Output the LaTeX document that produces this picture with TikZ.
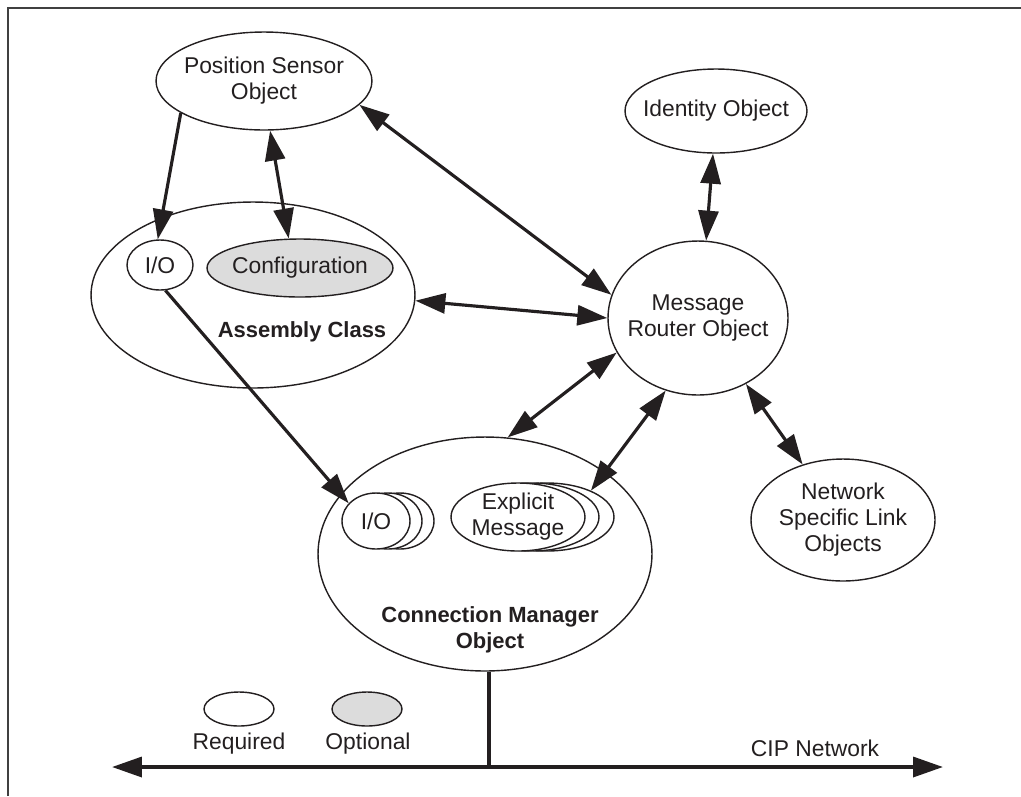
\documentclass[tikz,border=0pt]{standalone}
\usepackage{fontspec}
\setmainfont{Liberation Sans}
\usetikzlibrary{shapes.geometric, arrows.meta}

\definecolor{ink}{HTML}{231F20}
\definecolor{optgray}{HTML}{DCDCDC}

\begin{document}
\begin{tikzpicture}[x=0.02cm, y=-0.02cm, color=ink, line width=0.8pt,
    font=\fontsize{13}{14.8}\selectfont,
    obj/.style={draw, ellipse, inner sep=-6pt, align=center, fill=white},
    caption/.style={font=\fontsize{12.5}{14.8}\selectfont\bfseries, align=center},
    link/.style={line width=1.8pt, {Triangle[length=0.6cm,width=0.4cm]}-{Triangle[length=0.6cm,width=0.4cm]}},
    feed/.style={line width=1.8pt, -{Triangle[length=0.6cm,width=0.4cm]}},
    bus/.style={line width=2pt}]
  \useasboundingbox (0,0) rectangle (1021,796);
  \draw[line width=1.5pt, color=black!75] (8,796) -- (8,8) -- (1021,8);

  \node[obj, minimum width=4.32cm, minimum height=1.96cm] (pso) at (264,81) {Position Sensor\\Object};
  \node[obj, minimum width=3.64cm, minimum height=1.68cm] (ido) at (716,111) {Identity Object};

  % assembly
  \node[obj, minimum width=6.48cm, minimum height=3.72cm] (asm) at (253,295) {};
  \node[obj, minimum width=1.32cm, minimum height=1cm] (asmio) at (160,265) {I/O};
  \node[obj, fill=optgray, minimum width=3.72cm, minimum height=1.16cm] (cfg) at (300,268) {Configuration};
  \node[caption] (asmlbl) at (302,332) {Assembly Class};

  \node[obj, minimum width=3.6cm, minimum height=3.08cm] (mro) at (698,318) {Message\\Router Object};

  % connection manager
  \node[obj, minimum width=6.68cm, minimum height=4.68cm] (cmo) at (485,554) {};
  \node[caption] (cmolbl) at (490,630) {Connection Manager\\Object};
  \node[obj, minimum width=1.36cm, minimum height=1.12cm] (cmio3) at (400,521) {};
  \node[obj, minimum width=1.36cm, minimum height=1.12cm] (cmio2) at (388,521) {};
  \node[obj, minimum width=1.36cm, minimum height=1.12cm] (cmio) at (376,521) {I/O};
  \node[obj, minimum width=2.68cm, minimum height=1.36cm] (exm3) at (547,517) {};
  \node[obj, minimum width=2.68cm, minimum height=1.36cm] (exm2) at (532,517) {};
  \node[obj, minimum width=2.68cm, minimum height=1.36cm] (exm) at (518,517) {Explicit\\Message};

  \node[obj, minimum width=3.68cm, minimum height=2.44cm] (nsl) at (843,520) {Network\\Specific Link\\Objects};

  % legend and network
  \node[obj, minimum width=1.4cm, minimum height=0.68cm] (req) at (239,709) {};
  \node[obj, fill=optgray, minimum width=1.4cm, minimum height=0.68cm] (opt) at (367,709) {};
  \node (reqlbl) at (239,744) {Required};
  \node (optlbl) at (368,744) {Optional};
  \node (ciplbl) at (815,748) {CIP Network};
  \coordinate (busl) at (112,767);
  \coordinate (busr) at (943,767);

  \draw[bus] (cmo.-88) -- (cmo.-88 |- busl);
  \draw[bus, {Triangle[length=0.6cm,width=0.4cm]}-{Triangle[length=0.6cm,width=0.4cm]}] (busl) -- (busr);

  \draw[feed] (pso.201) -- (asmio.95);
  \draw[link] (pso.277) -- (cfg.111);
  \draw[link] (pso.-14) -- (mro.165);
  \draw[link] (ido.266) -- (mro.84);
  \draw[link] (asm.-2) -- (mro.180);
  \draw[link] (cmo.79) -- (mro.203);
  \draw[link] (exm3.31) -- (mro.246);
  \draw[link] (mro.306) -- (nsl.126);
  \draw[feed] (asmio.282) -- (cmio.147);
\end{tikzpicture}
\end{document}
